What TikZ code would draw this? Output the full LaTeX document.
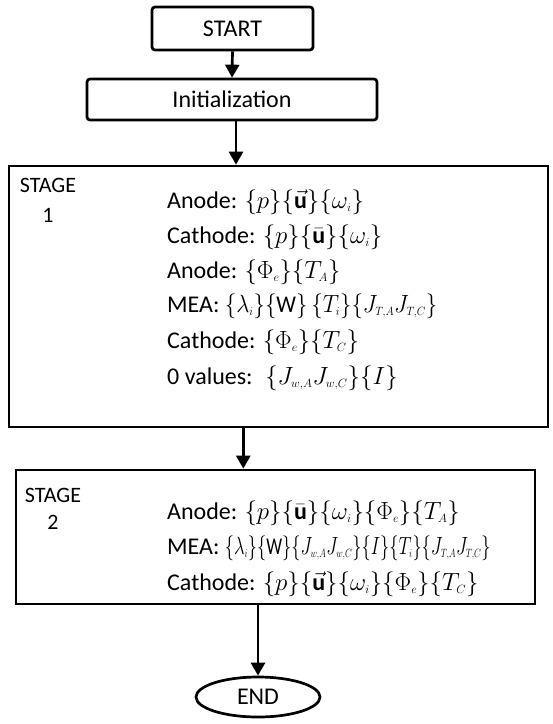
\documentclass[tikz,border=0pt]{standalone}
\usepackage{fontspec}
\setmainfont{Carlito}
\usetikzlibrary{arrows.meta,shapes.geometric,calc}
\newcommand\sbx[1]{_{\scriptscriptstyle #1}}
\tikzset{
  box/.style={draw, line width=2.7pt, inner sep=0pt},
  rbox/.style={box, rounded corners=3pt},
  arr/.style={line width=2.7pt, -{Triangle[width=14pt,length=13pt]}},
  txt/.style={anchor=west, inner sep=0pt, font=\fontsize{24}{28}\selectfont},
  stg/.style={inner sep=0pt, font=\fontsize{22}{26}\selectfont},
  ttl/.style={font=\fontsize{24}{28}\selectfont}
}
\begin{document}
\begin{tikzpicture}[x=1pt,y=-1pt]
\useasboundingbox (0,0) rectangle (553,724);
\fill[white] (0,0) rectangle (553,724);
\node[rbox, ttl, minimum width=161pt, minimum height=43pt] (start) at (232.5,28.5) {START};
\node[rbox, ttl, minimum width=290pt, minimum height=41pt] (init) at (232,99.5) {Initialization};
\node[box, minimum width=539pt, minimum height=261pt] (s1) at (278.5,296.5) {};
\node[box, minimum width=519pt, minimum height=134pt] (s2) at (275.5,537) {};
\node[box, ellipse, ttl, minimum width=124pt, minimum height=40pt] (e) at (258,697) {END};
% stage 1
\node[stg] (st1) at (48,185) {STAGE};
\node[stg] (n1) at (48,215) {1};
\node[txt] (l11) at (167,202) {Anode: $\{p\}\{\vec{\mathbf{u}}\}\{\omega\sbx{i}\}$};
\node[txt] (l12) at (167,237) {Cathode: $\{p\}\{\bar{\mathbf{u}}\}\{\omega\sbx{i}\}$};
\node[txt] (l13) at (167,272) {Anode: $\{\Phi\sbx{e}\}\{T\sbx{A}\}$};
\node[txt] (l14) at (167,306) {MEA: \scalebox{0.92}[1]{$\{\lambda\sbx{i}\}\{\mathrm{W}\}\,\{T\sbx{i}\}\{J\sbx{T,A}J\sbx{T,C}\}$}};
\node[txt] (l15) at (167,342) {Cathode: $\{\Phi\sbx{e}\}\{T\sbx{C}\}$};
\node[txt] (l16) at (167,378) {0 values: \ $\{J\sbx{w,A}J\sbx{w,C}\}\{I\}$};
% stage 2
\node[stg] (st2) at (53,495) {STAGE};
\node[stg] (n2) at (53,522) {2};
\node[txt] (l21) at (167,513) {Anode: $\{p\}\{\bar{\mathbf{u}}\}\{\omega\sbx{i}\}\{\Phi\sbx{e}\}\{T\sbx{A}\}$};
\node[txt] (l22) at (167,548) {MEA: \scalebox{0.74}[1]{$\{\lambda\sbx{i}\}\{\mathrm{W}\}\{J\sbx{w,A}J\sbx{w,C}\}\{I\}\{T\sbx{i}\}\{J\sbx{T,A}J\sbx{T,C}\}$}};
\node[txt] (l23) at (167,584) {Cathode: $\{p\}\{\vec{\mathbf{u}}\}\{\omega\sbx{i}\}\{\Phi\sbx{e}\}\{T\sbx{C}\}$};
% connectors
\draw[arr] (start.south) -- (init.north);
\coordinate (a2) at ($(init.south)+(4pt,0)$);
\draw[arr] (a2) -- (a2 |- s1.north);
\coordinate (a3) at ($(s1.south west)!0.435!(s1.south east)$);
\draw[arr] (a3) -- (a3 |- s2.north);
\draw[arr] (s2.south -| e.north) -- (e.north);
\end{tikzpicture}
\end{document}
